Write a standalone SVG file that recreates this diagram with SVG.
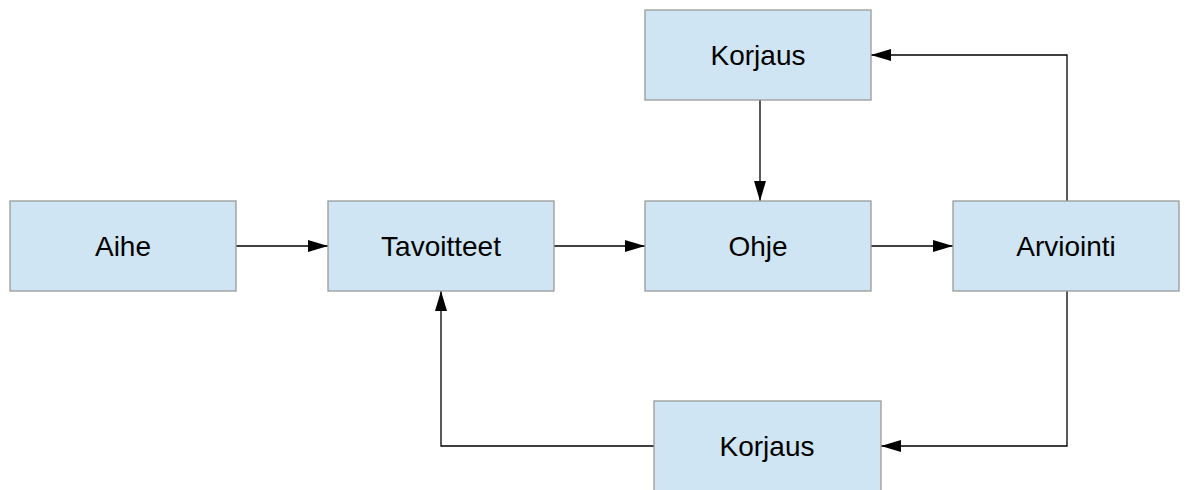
<svg xmlns="http://www.w3.org/2000/svg" width="1187" height="490" viewBox="0 0 1187 490">
<style>
.box{fill:#cfe5f3;stroke:#9a9a9a;stroke-width:1.3}
.lbl{font-family:"Liberation Sans",Arial,sans-serif;font-size:28px;fill:#000;text-anchor:middle;dominant-baseline:central}
.con{fill:none;stroke:#000;stroke-width:1.3}
</style>
<defs>
<marker id="ah" viewBox="0 0 20 12" refX="20" refY="6" markerWidth="20" markerHeight="12" markerUnits="userSpaceOnUse" orient="auto">
<path d="M0,0 L20,6 L0,12 Z" fill="#000"/>
</marker>
</defs>
<rect width="1187" height="490" fill="#fff"/>
<g id="connectors">
<path class="con" d="M236,246 H328" marker-end="url(#ah)"/>
<path class="con" d="M554,246 H645" marker-end="url(#ah)"/>
<path class="con" d="M871,246 H953" marker-end="url(#ah)"/>
<path class="con" d="M760,100 V201" marker-end="url(#ah)"/>
<path class="con" d="M1067,201 V55 H871" marker-end="url(#ah)"/>
<path class="con" d="M1067,291 V446 H881" marker-end="url(#ah)"/>
<path class="con" d="M654,446 H441 V291" marker-end="url(#ah)"/>
</g>
<g id="aihe"><rect class="box" x="10" y="201" width="226" height="90"/><text class="lbl" x="123" y="246">Aihe</text></g>
<g id="tavoitteet"><rect class="box" x="328" y="201" width="226" height="90"/><text class="lbl" x="441" y="246">Tavoitteet</text></g>
<g id="ohje"><rect class="box" x="645" y="201" width="226" height="90"/><text class="lbl" x="758" y="246">Ohje</text></g>
<g id="arviointi"><rect class="box" x="953" y="201" width="226" height="90"/><text class="lbl" x="1066" y="246">Arviointi</text></g>
<g id="korjaus-top"><rect class="box" x="645" y="10" width="226" height="90"/><text class="lbl" x="758" y="55">Korjaus</text></g>
<g id="korjaus-bottom"><rect class="box" x="654" y="401" width="227" height="100"/><text class="lbl" x="767" y="446">Korjaus</text></g>
</svg>
